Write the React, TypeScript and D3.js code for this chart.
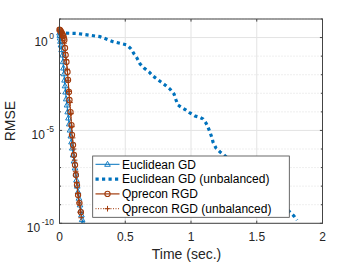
import React from "react";
import * as d3 from "d3";

const xTicks = [0, 0.5, 1, 1.5, 2];
const yMajorExp = [0, -5, -10];
const yDecades = [1, 0, -1, -2, -3, -4, -5, -6, -7, -8, -9, -10];

// [time, log10(RMSE)]
const euclidGD: [number, number][] = [
  [0.0, 0.25], [0.002, 0.12], [0.004, -0.02], [0.007, -0.2], [0.011, -0.4], [0.016, -0.65],
  [0.023, -0.94], [0.027, -1.3], [0.03, -1.64], [0.034, -1.95], [0.038, -2.29], [0.042, -2.6],
  [0.046, -2.93], [0.051, -3.3], [0.057, -3.63], [0.062, -4.0], [0.068, -4.33], [0.074, -4.65],
  [0.08, -4.98], [0.086, -5.3], [0.091, -5.62], [0.097, -5.95], [0.103, -6.32], [0.11, -6.65],
  [0.118, -7.02], [0.124, -7.35], [0.129, -7.67], [0.135, -8.0], [0.141, -8.31], [0.148, -8.65],
  [0.156, -9.01], [0.161, -9.3], [0.167, -9.55], [0.172, -9.8], [0.178, -10.0],
];

const euclidUnbal: [number, number][] = [
  [0, 0.25], [0.133, 0.22], [0.308, 0.05], [0.407, -0.22], [0.46, -0.31], [0.513, -0.4],
  [0.544, -0.61], [0.567, -0.88], [0.589, -1.1], [0.612, -1.41], [0.643, -1.64], [0.681, -1.85],
  [0.711, -2.07], [0.741, -2.23], [0.772, -2.39], [0.802, -2.55], [0.84, -2.77], [0.871, -3.04],
  [0.886, -3.36], [0.901, -3.63], [0.924, -3.74], [0.962, -3.9], [0.992, -4.06], [1.03, -4.22],
  [1.061, -4.28], [1.091, -4.38], [1.114, -4.6], [1.129, -4.82], [1.144, -5.09], [1.16, -5.41],
  [1.167, -5.62], [1.19, -5.95], [1.221, -6.16], [1.251, -6.32], [1.449, -7.56], [1.601, -8.48],
  [1.758, -9.43], [1.783, -9.61], [1.806, -9.83],
];

const qprecon: [number, number][] = [
  [0.0, 0.42], [0.004, 0.4], [0.008, 0.36], [0.012, 0.31], [0.017, 0.25], [0.023, 0.17],
  [0.029, 0.09], [0.033, -0.02], [0.037, -0.13], [0.042, -0.56], [0.047, -0.94], [0.053, -1.31],
  [0.061, -1.85], [0.065, -2.28], [0.072, -2.93], [0.076, -3.36], [0.084, -4.01], [0.091, -4.71],
  [0.095, -5.24], [0.103, -5.78], [0.11, -6.32], [0.118, -6.86], [0.125, -7.4], [0.133, -7.94],
  [0.141, -8.48], [0.152, -8.91], [0.163, -9.4],
];

const qpreconUnbal: [number, number][] = [
  [0.0, 0.35], [0.01, 0.2], [0.02, 0.0], [0.035, -0.3], [0.043, -0.8], [0.05, -1.2],
  [0.058, -1.7], [0.066, -2.3], [0.073, -2.9], [0.08, -3.5], [0.087, -4.1], [0.094, -4.8],
  [0.1, -5.4], [0.108, -6.0], [0.115, -6.6], [0.123, -7.2], [0.131, -7.8], [0.139, -8.4],
  [0.148, -8.9], [0.158, -9.4], [0.165, -9.7],
];

const legendLabels = [
  "Euclidean GD",
  "Euclidean GD (unbalanced)",
  "Qprecon RGD",
  "Qprecon RGD (unbalanced)",
];

const BLUE = "#0072BD";
const BROWN = "#A23B0C";
const FONT = "Liberation Sans, Arial, Helvetica, sans-serif";

export default function App() {
  const W = 357, H = 263;
  const left = 59.5, right = 322.5, top = 19, bottom = 223.3;
  const x = d3.scaleLinear().domain([0, 2]).range([left, right]);
  const y = d3.scaleLog().domain([1e-10, 10]).range([bottom, top]);
  const line = d3
    .line<[number, number]>()
    .x((d) => x(d[0]))
    .y((d) => y(Math.pow(10, d[1])));

  const tri = (cx: number, cy: number, key: any) => (
    <path key={key} d={`M${cx},${cy - 3}L${cx + 2.8},${cy + 2}L${cx - 2.8},${cy + 2}Z`} fill="none" stroke={BLUE} strokeWidth={0.9} />
  );
  const circ = (cx: number, cy: number, key: any) => (
    <circle key={key} cx={cx} cy={cy} r={2.6} fill="none" stroke={BROWN} strokeWidth={1.1} />
  );
  const plus = (cx: number, cy: number, key: any) => (
    <path key={key} d={`M${cx - 2.8},${cy}H${cx + 2.8}M${cx},${cy - 2.8}V${cy + 2.8}`} stroke={BROWN} strokeWidth={1} />
  );

  const lg = { x0: 92.7, y0: 156, w: 196.6, h: 61.3 };
  const rowY = [164.3, 179.1, 193.9, 208.7];

  return (
    <svg width={W} height={H} style={{ position: "absolute", left: 0, top: 0 }} fontFamily={FONT}>
      <rect x={0} y={0} width={W} height={H} fill="#fff" />
      <defs>
        <clipPath id="plotclip">
          <rect x={left - 4} y={top - 6} width={right - left + 8} height={bottom - top + 6} />
        </clipPath>
      </defs>
      {/* grid */}
      {xTicks.map((t, i) => (
        <line key={"gx" + i} x1={x(t)} x2={x(t)} y1={top} y2={bottom} stroke="#e3e3e3" strokeWidth={1} />
      ))}
      {yDecades.map((e, i) => {
        const yy = y(Math.pow(10, e));
        const major = yMajorExp.includes(e);
        return (
          <line key={"gy" + i} x1={left} x2={right} y1={yy} y2={yy}
            stroke={major ? "#e3e3e3" : "#d6d6d6"} strokeWidth={major ? 1 : 0.8}
            strokeDasharray={major ? undefined : "1,2"} />
        );
      })}
      {/* ticks */}
      {xTicks.map((t, i) => (
        <g key={"tx" + i}>
          <line x1={x(t)} x2={x(t)} y1={bottom} y2={bottom - 2.6} stroke="#444" />
          <line x1={x(t)} x2={x(t)} y1={top} y2={top + 2.6} stroke="#444" />
          <text x={x(t)} y={241} fontSize={12} textAnchor="middle" fill="#262626">{String(t)}</text>
        </g>
      ))}
      {yDecades.map((e, i) => {
        const yy = y(Math.pow(10, e));
        const major = yMajorExp.includes(e);
        const len = major ? 2.6 : 1.6;
        return (
          <g key={"ty" + i}>
            <line x1={left} x2={left + len} y1={yy} y2={yy} stroke="#444" />
            <line x1={right} x2={right - len} y1={yy} y2={yy} stroke="#444" />
          </g>
        );
      })}
      {yMajorExp.map((e, i) => {
        const yy = y(Math.pow(10, e));
        return (
          <text key={"yl" + i} x={54} y={yy + 8.5} fontSize={12} textAnchor="end" fill="#262626">
            <tspan>10</tspan>
            <tspan dx={1.5} dy={-7} fontSize={8.5}>{e === 0 ? "0" : "-" + Math.abs(e)}</tspan>
          </text>
        );
      })}
      {/* series */}
      <g clipPath="url(#plotclip)">
        <path d={line(euclidUnbal) || ""} fill="none" stroke={BLUE} strokeWidth={3.2} strokeDasharray="3.2,3.3" />
        <path d={line(euclidGD) || ""} fill="none" stroke={BLUE} strokeWidth={1} />
        {euclidGD.map((d, i) => tri(x(d[0]), y(Math.pow(10, d[1])), "t" + i))}
        <path d={line(qpreconUnbal) || ""} fill="none" stroke={BROWN} strokeWidth={1} strokeDasharray="1,1.5" />
        {qpreconUnbal.map((d, i) => plus(x(d[0]), y(Math.pow(10, d[1])), "p" + i))}
        <path d={line(qprecon) || ""} fill="none" stroke={BROWN} strokeWidth={1.2} />
        {qprecon.map((d, i) => circ(x(d[0]), y(Math.pow(10, d[1])), "c" + i))}
      </g>
      {/* box */}
      <rect x={left} y={top} width={right - left} height={bottom - top} fill="none" stroke="#444" strokeWidth={1} />
      {/* legend */}
      <rect x={lg.x0} y={lg.y0} width={lg.w} height={lg.h} fill="#fff" stroke="#444" strokeWidth={0.8} />
      {legendLabels.map((lab, i) => {
        const yy = rowY[i];
        const x1 = 95.5, x2 = 119.5, xm = (x1 + x2) / 2;
        let sample: React.ReactNode = null;
        if (i === 0) sample = <g><line x1={x1} x2={x2} y1={yy} y2={yy} stroke={BLUE} strokeWidth={1} />{tri(xm, yy, "lt")}</g>;
        if (i === 1) sample = <line x1={x1} x2={x2} y1={yy} y2={yy} stroke={BLUE} strokeWidth={3.2} strokeDasharray="3.2,3.3" />;
        if (i === 2) sample = <g><line x1={x1} x2={x2} y1={yy} y2={yy} stroke={BROWN} strokeWidth={1.2} />{circ(xm, yy, "lc")}</g>;
        if (i === 3) sample = <g><line x1={x1} x2={x2} y1={yy} y2={yy} stroke={BROWN} strokeWidth={1} strokeDasharray="1,1.5" />{plus(xm, yy, "lp")}</g>;
        return (
          <g key={"lg" + i}>
            {sample}
            <text x={122} y={yy + 4.3} fontSize={12} fill="#000">{lab}</text>
          </g>
        );
      })}
      {/* axis labels */}
      <text x={186.5} y={259} fontSize={14} textAnchor="middle" fill="#262626">Time (sec.)</text>
      <text transform={`translate(15,${(top + bottom) / 2}) rotate(-90)`} fontSize={14} textAnchor="middle" fill="#262626">RMSE</text>
    </svg>
  );
}
